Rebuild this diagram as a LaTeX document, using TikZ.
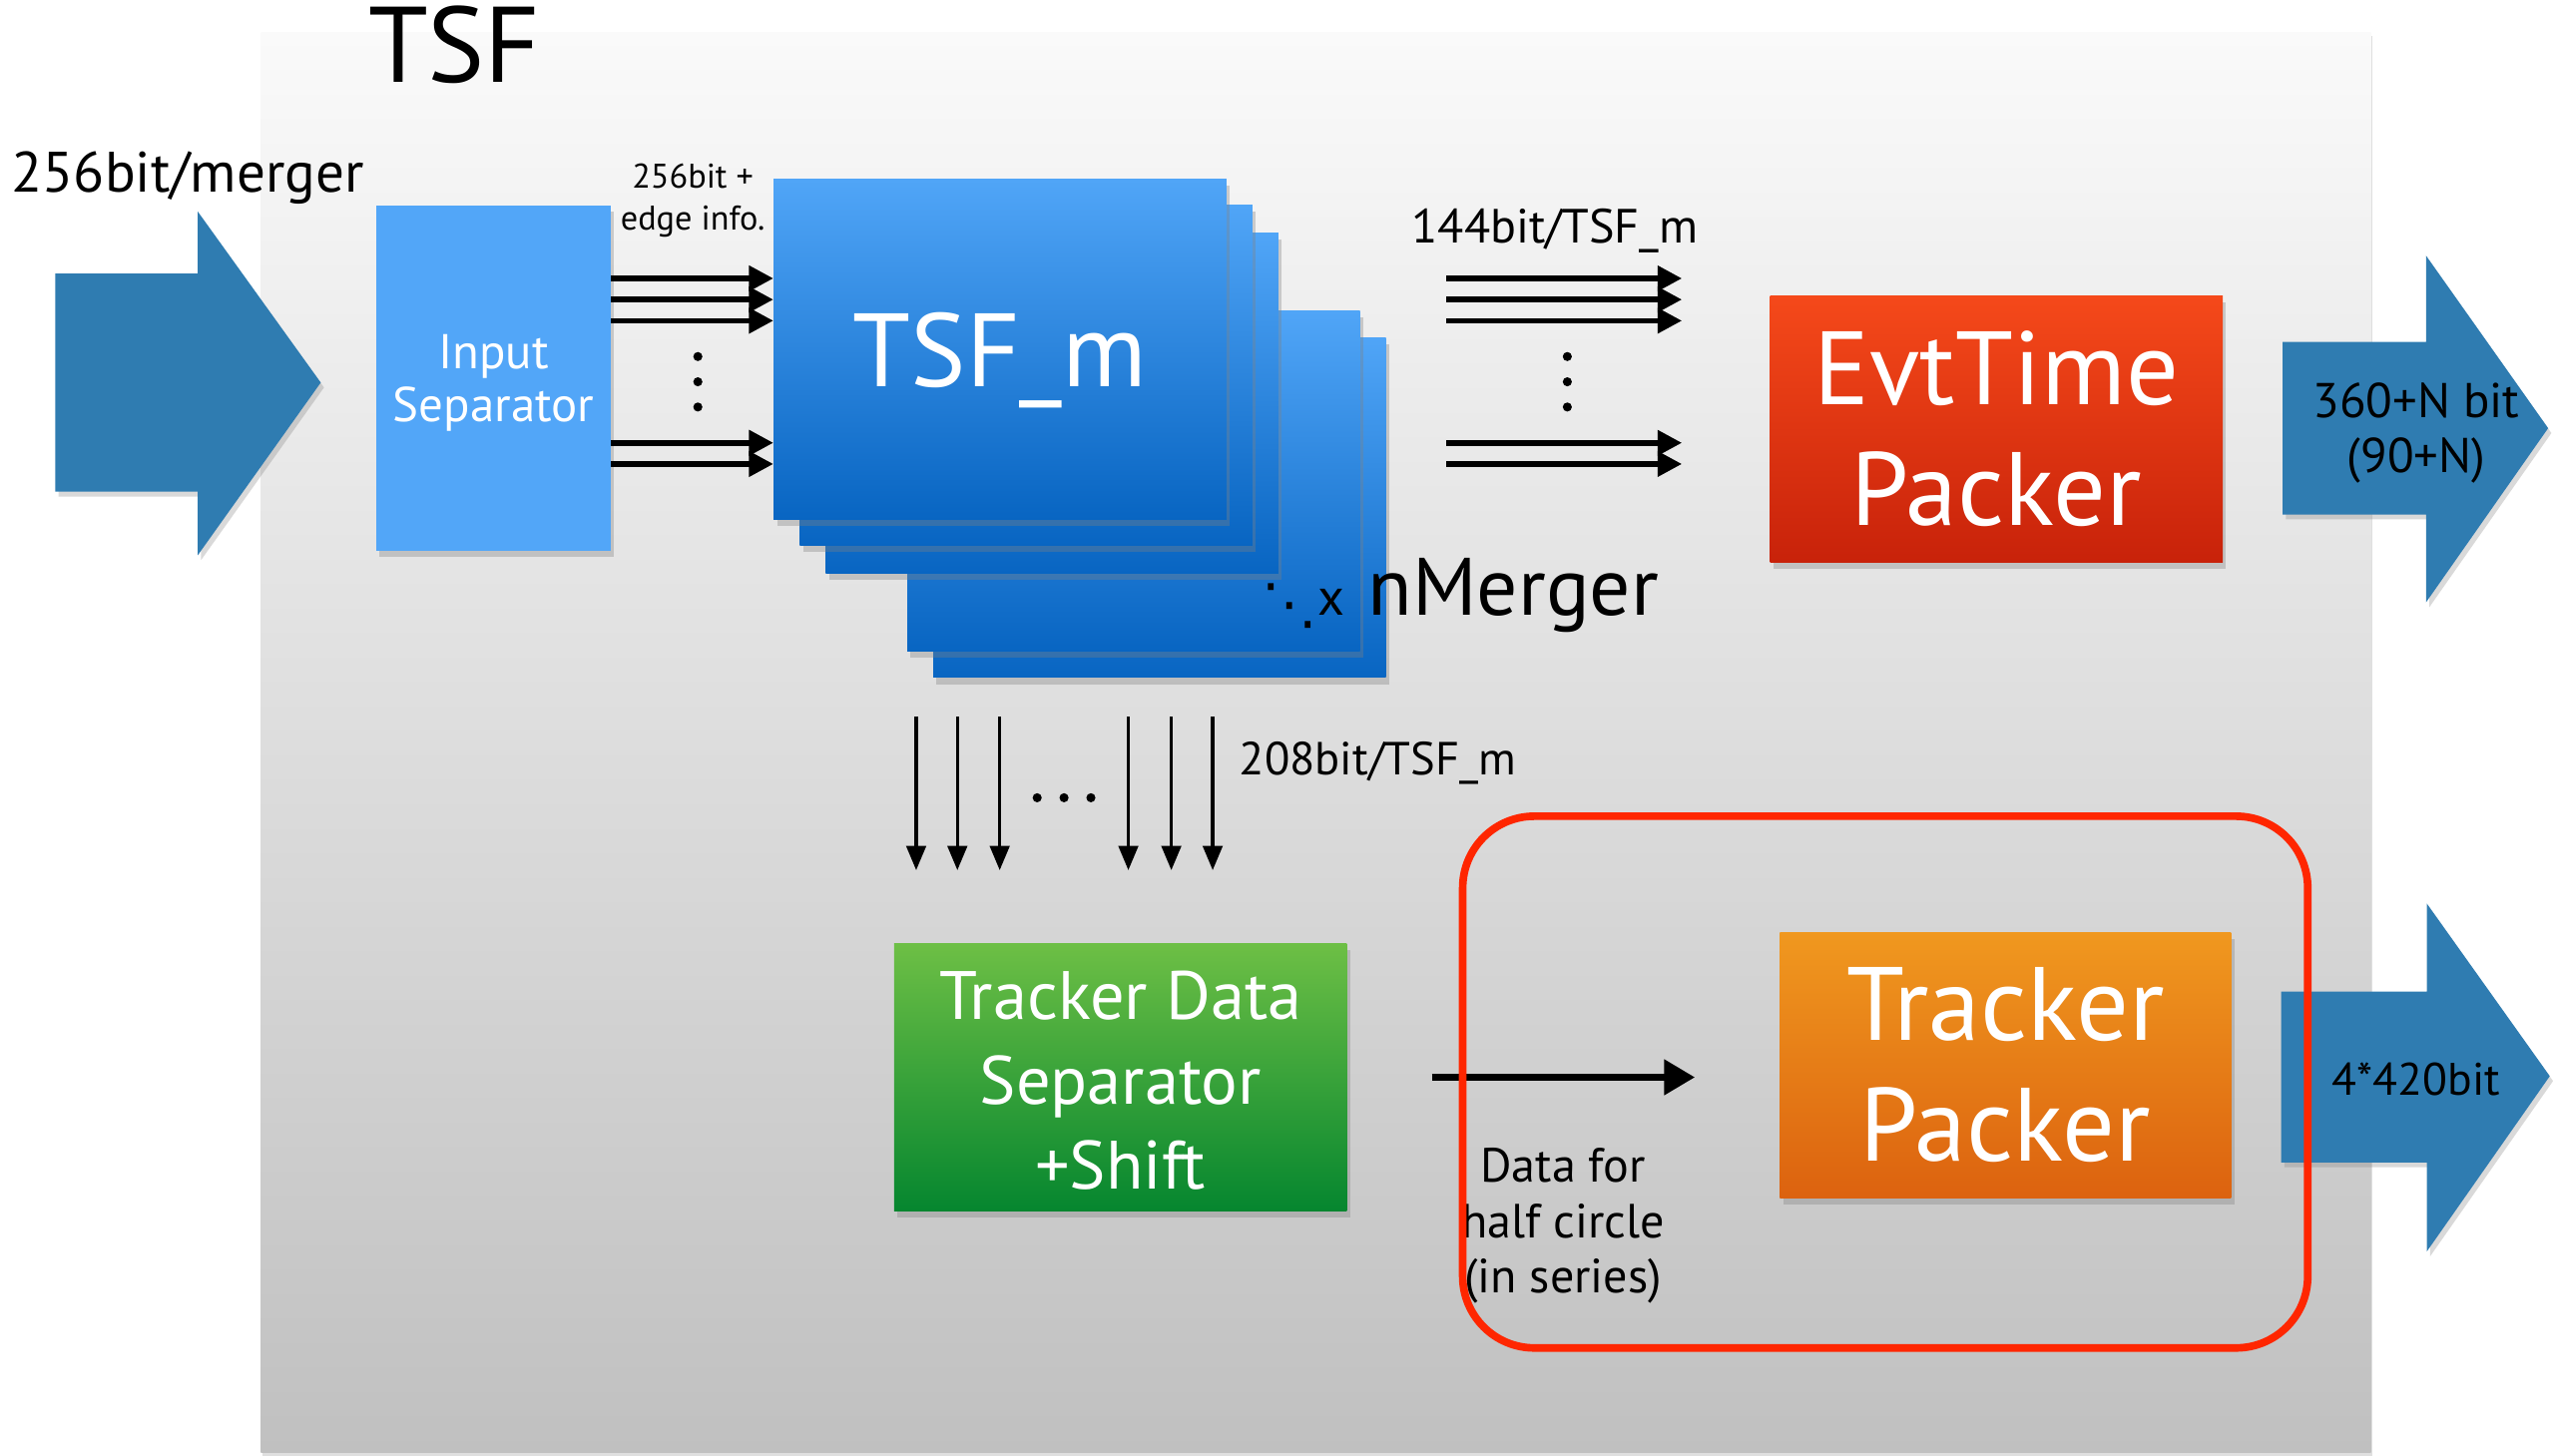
\documentclass[tikz,border=0pt]{standalone}
\usepackage{fontspec}
\setmainfont{PT Sans}
\newfontfamily\symfont{DejaVu Sans}
\usetikzlibrary{arrows.meta}
\usetikzlibrary{shadows}
\usetikzlibrary{positioning}

\definecolor{bgtop}{RGB}{250,250,250}
\definecolor{bgbot}{RGB}{192,192,192}
\definecolor{flow}{RGB}{47,124,177}
\definecolor{sepblue}{RGB}{82,166,248}
\definecolor{tsftop}{RGB}{80,165,247}
\definecolor{tsfbot}{RGB}{8,101,194}
\definecolor{evttop}{RGB}{245,73,26}
\definecolor{evtbot}{RGB}{200,34,10}
\definecolor{tdstop}{RGB}{109,191,69}
\definecolor{tdsbot}{RGB}{5,134,47}
\definecolor{trptop}{RGB}{240,152,31}
\definecolor{trpbot}{RGB}{220,98,15}
\definecolor{halfred}{RGB}{255,38,0}

\begin{document}
\begin{tikzpicture}[x=1pt,y=-1pt,
	bg/.style={anchor=north west, inner sep=0pt, minimum width=1296pt, minimum height=872pt, top color=bgtop, bottom color=bgbot, drop shadow={shadow xshift=1pt, shadow yshift=-2pt, opacity=0.25}},
	block/.style={anchor=north west, inner sep=0pt, align=center, text=white, drop shadow={shadow xshift=2pt, shadow yshift=-4pt, opacity=0.35}},
	tsfbox/.style={block, minimum width=278pt, minimum height=209pt, top color=tsftop, bottom color=tsfbot},
	bigfont/.style={font=\fontsize{64}{74}\selectfont},
	lbl/.style={inner sep=0pt, font=\fontsize{30}{34}\selectfont},
	bus/.style={line width=3.5pt, -{Triangle[length=15pt,width=15pt]}},
	feed/.style={line width=2pt, -{Triangle[length=15pt,width=12pt]}},
	serial/.style={line width=4.5pt, -{Triangle[length=19pt,width=21pt]}},
	flowarrow/.style={fill=flow, drop shadow={shadow xshift=2pt, shadow yshift=-3pt, opacity=0.3}}
	]
			\useasboundingbox (0,0) rectangle (1568,894.3);
			\node[bg] (tsf) at (160,20) {};
			\node[inner sep=0pt, anchor=base west, font=\fontsize{66}{66}\selectfont] (title) at (226,50.5) {TSF};
			% wide data paths
			\fill[flowarrow] (34,168) -- (121.5,168) -- (121.5,130) -- (197,235) -- (121.5,341) -- (121.5,302) -- (34,302) -- cycle;
			\fill[flowarrow] (1402,210) -- (1490,210) -- (1490,157) -- (1565,263) -- (1490,370) -- (1490,316) -- (1402,316) -- cycle;
			\fill[flowarrow] (1401,609) -- (1490.5,609) -- (1490.5,555) -- (1566,661) -- (1490.5,768.7) -- (1490.5,714) -- (1401,714) -- cycle;
			\node[lbl, anchor=base west, font=\fontsize{35}{35}\selectfont] (inlbl) at (7,118) {256bit/merger};
			\node[lbl, align=center] (evtout) at (1484,266) {360+N bit\\(90+N)};
			\node[lbl, font=\fontsize{28}{28}\selectfont] (trpout) at (1484,663) {4*420bit};
			% input separator
			\node[block, fill=sepblue, minimum width=144pt, minimum height=212pt, font=\fontsize{30}{33}\selectfont] (insep) at (231,126) {\rule{0pt}{27pt}Input\\Separator};
			% TSF_m stack
			\foreach \i/\x/\y in {5/573/207, 4/557/191, 3/507/143, 2/491/126}
				\node[tsfbox] (stack\i) at (\x,\y) {};
			\node[tsfbox, bigfont, text depth=0pt] (tsfm) at (475,110) {TSF\_m};
			\node[lbl, anchor=base west, font=\fontsize{50}{50}\selectfont] (nmerg) at (840,377.7) {nMerger};
			\node[lbl, anchor=base east, font=\fontsize{32}{32}\selectfont] (times) at (826,377.7) {{\symfont\fontsize{34}{34}\selectfont\raisebox{-5pt}{⋱}}x};
			\foreach \y in {171,184,197,272,285}
				\draw[bus] (insep.east |- 0,\y) -- (tsfm.west |- 0,\y);
			\foreach \y in {219,234.5,250}
				\fill (428.6,\y) circle (2.8pt);
			\node[lbl, align=center, font=\fontsize{21}{26}\selectfont] (buslbl) at (425.5,123) {256bit +\\edge info.};
			% packers
			\node[block, bigfont, top color=evttop, bottom color=evtbot, minimum width=278pt, minimum height=163.5pt] (evt) at (1087,181.5) {EvtTime\\Packer};
			\foreach \y in {171,184,197,272,285}
				\draw[bus, shorten <=37pt, shorten >=54pt] (stack5.east |- 0,\y) -- (evt.west |- 0,\y);
			\foreach \y in {219,234.5,250}
				\fill (962.6,\y) circle (2.8pt);
			\node[lbl, anchor=base, font=\fontsize{29.5}{29.5}\selectfont] (evtlbl) at (955,149) {144bit/TSF\_m};
			\node[block, top color=tdstop, bottom color=tdsbot, minimum width=278pt, minimum height=164pt, font=\fontsize{42}{52}\selectfont] (tds) at (549,579.5) {\rule{0pt}{34pt}Tracker Data\\Separator\\+Shift};
			\foreach \x in {562.7,588,614,693,719.4,744.8}
				\draw[feed, shorten <=24pt, shorten >=45pt] (stack5.south -| \x,0) -- (tds.north -| \x,0);
			\foreach \x in {637,653.5,670}
				\fill (\x,490) circle (2.8pt);
			\node[lbl, anchor=base west, font=\fontsize{28.5}{28.5}\selectfont] (tdslbl) at (761,476) {208bit/TSF\_m};
			\node[block, bigfont, top color=trptop, bottom color=trpbot, minimum width=277pt, minimum height=163pt] (trp) at (1093,572.5) {Tracker\\Packer};
			\draw[serial, shorten <=52pt, shorten >=52pt] (tds.east) -- (tds.east -| trp.west);
			\node[lbl, align=center, font=\fontsize{29.5}{34}\selectfont] (serlbl) at (960,753) {Data for\\half circle\\(in series)};
			\node[draw=halfred, line width=4.7pt, rounded corners=44pt, anchor=north west, minimum width=519pt, minimum height=326.6pt] (halfc) at (896,499) {};
		\end{tikzpicture}
\end{document}
